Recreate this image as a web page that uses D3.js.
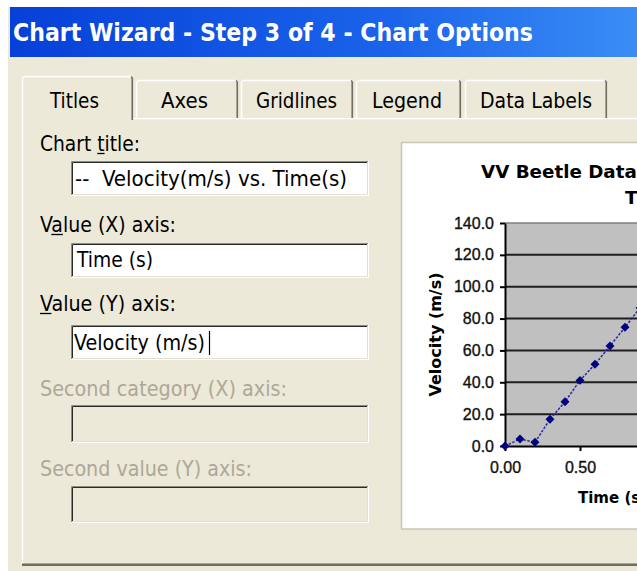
<!DOCTYPE html>
<html><head><meta charset="utf-8">
<script src="https://cdn.jsdelivr.net/npm/d3@7"></script>
<style>
html,body{margin:0;padding:0;background:#fff;overflow:hidden}
svg{display:block}
text{white-space:pre}
</style></head><body>
<script>
// ---------------- data ----------------
const times      = [0.0, 0.1, 0.2, 0.3, 0.4, 0.5, 0.6, 0.7, 0.8, 0.9];
const velocities = [0.0, 4.4, 2.3, 16.8, 27.8, 41.2, 51.3, 62.8, 74.5, 86.8];
const yTicks = [0, 20, 40, 60, 80, 100, 120, 140];
const xTicks = [0, 0.5];
const chartTitleLines = ["VV Beetle Data -- Velocity(m/s) vs.", "Time(s)"];
const xAxisTitle = "Time (s)";
const yAxisTitle = "Velocity (m/s)";
const windowTitle = "Chart Wizard - Step 3 of 4 - Chart Options";
const tabNames = ["Titles", "Axes", "Gridlines", "Legend", "Data Labels"];
const fieldLabels = ["Chart title:", "Value (X) axis:", "Value (Y) axis:", "Second category (X) axis:", "Second value (Y) axis:"];
const fieldValues = ["--  Velocity(m/s) vs. Time(s)", "Time (s)", "Velocity (m/s)", "", ""];
const accessKeys = [6, 1, 0, -1, -1];
const fieldEnabled = [true, true, true, false, false];

// ---------------- layout ----------------
const W = 637, H = 571;
const beige = "#ECE9D8";
const uiFont = "'DejaVu Sans Condensed','DejaVu Sans',sans-serif";
const chartFont = "'DejaVu Sans',sans-serif";
const tickFont = "'Liberation Sans',Arial,sans-serif";

const tabLayout = [
  {x0: 22, x1: 133, tx: 50, tw: 49},
  {x0: 136, x1: 238, tx: 161, tw: 47},
  {x0: 241, x1: 353, tx: 256, tw: 81},
  {x0: 356, x1: 461, tx: 372, tw: 70},
  {x0: 465, x1: 607, tx: 480, tw: 112}
];
const labelLayout = [
  {y: 151, w: 100}, {y: 232, w: 136}, {y: 311, w: 136}, {y: 396, w: 247}, {y: 476, w: 212}
];
const boxLayout = [
  {y0: 161, y1: 196, tx: 75, tw: 272, ty: 186},
  {y0: 243, y1: 278, tx: 77, tw: 76, ty: 267},
  {y0: 325, y1: 360, tx: 74, tw: 131, ty: 350},
  {y0: 405, y1: 443},
  {y0: 486, y1: 523}
];

const svg = d3.select("body").append("svg").attr("width", W).attr("height", H);
svg.append("rect").attr("width", W).attr("height", H).attr("fill", "#fff");
svg.append("rect").attr("x", 8).attr("y", 7).attr("width", W - 8).attr("height", H - 7).attr("fill", beige);

// title bar
const defs = svg.append("defs");
const grad = defs.append("linearGradient").attr("id", "tb").attr("x1", 0).attr("x2", 1).attr("y1", 0).attr("y2", 0);
grad.append("stop").attr("offset", 0).attr("stop-color", "#0740D8");
grad.append("stop").attr("offset", 0.6).attr("stop-color", "#1A63EA");
grad.append("stop").attr("offset", 1).attr("stop-color", "#3A8DF5");
svg.append("rect").attr("x", 10).attr("y", 7).attr("width", W - 10).attr("height", 50).attr("fill", "url(#tb)");
svg.append("text").attr("x", 13).attr("y", 41).text(windowTitle)
  .attr("font-family", uiFont).attr("font-weight", "bold").attr("font-size", 24)
  .attr("fill", "#fff").attr("textLength", 520).attr("lengthAdjust", "spacingAndGlyphs");

// panel
const pTop = 118, pBot = 566, pLeft = 22;
svg.append("line").attr("x1", pLeft + 0.5).attr("x2", pLeft + 0.5).attr("y1", pTop).attr("y2", pBot - 2).attr("stroke", "#fff").attr("stroke-width", 1.5);
svg.append("line").attr("x1", pLeft).attr("x2", W).attr("y1", pTop + 0.5).attr("y2", pTop + 0.5).attr("stroke", "#fff").attr("stroke-width", 1.5);
svg.append("line").attr("x1", pLeft).attr("x2", W).attr("y1", pBot - 2.5).attr("y2", pBot - 2.5).attr("stroke", "#ACA899").attr("stroke-width", 1);
svg.append("line").attr("x1", pLeft).attr("x2", W).attr("y1", pBot - 1).attr("y2", pBot - 1).attr("stroke", "#716F64").attr("stroke-width", 2);

// tabs
tabNames.forEach((name, i) => {
  const t = tabLayout[i];
  const sel = i === 0;
  const top = sel ? 76 : 80;
  const bot = sel ? pTop + 2 : pTop;
  const g = svg.append("g");
  g.append("path").attr("d", `M${t.x0},${bot} L${t.x0},${top + 2} L${t.x0 + 2},${top} L${t.x1 - 2},${top} L${t.x1},${top + 2} L${t.x1},${bot} Z`)
    .attr("fill", beige);
  g.append("path").attr("d", `M${t.x0 + 0.5},${bot} L${t.x0 + 0.5},${top + 2} L${t.x0 + 2.5},${top + 0.5} L${t.x1 - 2},${top + 0.5}`)
    .attr("fill", "none").attr("stroke", "#fff").attr("stroke-width", 1.5);
  g.append("line").attr("x1", t.x1 - 1.5).attr("x2", t.x1 - 1.5).attr("y1", top + 2).attr("y2", bot).attr("stroke", "#ACA899");
  g.append("path").attr("d", `M${t.x1 - 2},${top + 0.5} L${t.x1 - 0.5},${top + 2} L${t.x1 - 0.5},${bot}`)
    .attr("fill", "none").attr("stroke", "#716F64").attr("stroke-width", 1.2);
  g.append("text").attr("x", t.tx).attr("y", 108).text(name)
    .attr("font-family", uiFont).attr("font-size", 21).attr("fill", "#000")
    .attr("textLength", t.tw).attr("lengthAdjust", "spacingAndGlyphs");
});

// labels + text boxes
function textbox(x0, y0, x1, y1, fill) {
  const g = svg.append("g");
  g.append("rect").attr("x", x0).attr("y", y0).attr("width", x1 - x0).attr("height", y1 - y0).attr("fill", fill);
  g.append("path").attr("d", `M${x0 + 0.5},${y1} L${x0 + 0.5},${y0 + 0.5} L${x1},${y0 + 0.5}`).attr("fill", "none").attr("stroke", "#8E8B80");
  g.append("path").attr("d", `M${x0 + 1.5},${y1 - 1} L${x0 + 1.5},${y0 + 1.5} L${x1 - 1},${y0 + 1.5}`).attr("fill", "none").attr("stroke", "#2A2A28");
  g.append("path").attr("d", `M${x0},${y1 - 0.5} L${x1 - 0.5},${y1 - 0.5} L${x1 - 0.5},${y0}`).attr("fill", "none").attr("stroke", "#fff");
  g.append("path").attr("d", `M${x0 + 1},${y1 - 1.5} L${x1 - 1.5},${y1 - 1.5} L${x1 - 1.5},${y0 + 1}`).attr("fill", "none").attr("stroke", "#E2DFD2");
}

fieldLabels.forEach((lab, i) => {
  const L = labelLayout[i];
  const tx = svg.append("text").attr("x", 40).attr("y", L.y).text(lab)
    .attr("font-family", uiFont).attr("font-size", 21)
    .attr("fill", fieldEnabled[i] ? "#000" : "#ACA899")
    .attr("textLength", L.w).attr("lengthAdjust", "spacingAndGlyphs");
  if (accessKeys[i] >= 0) {
    try {
      const e = tx.node().getExtentOfChar(accessKeys[i]);
      svg.append("line").attr("x1", e.x).attr("x2", e.x + e.width).attr("y1", L.y + 2.5).attr("y2", L.y + 2.5)
        .attr("stroke", "#000").attr("stroke-width", 1.3);
    } catch (err) {}
  }
  const B = boxLayout[i];
  textbox(71, B.y0, 369, B.y1, fieldEnabled[i] ? "#fff" : beige);
  if (fieldValues[i]) {
    svg.append("text").attr("x", B.tx).attr("y", B.ty).text(fieldValues[i])
      .attr("font-family", uiFont).attr("font-size", 21).attr("fill", "#000")
      .attr("textLength", B.tw).attr("lengthAdjust", "spacingAndGlyphs");
  }
});
// caret in the Y-axis field
svg.append("line").attr("x1", 209.5).attr("x2", 209.5).attr("y1", 331).attr("y2", 355).attr("stroke", "#000").attr("stroke-width", 1.2);

// ---------------- chart preview ----------------
svg.append("rect").attr("x", 401.5).attr("y", 142.5).attr("width", 260).attr("height", 386.5)
  .attr("fill", "#fff").attr("stroke", "#C9C6B8").attr("stroke-width", 1.5);

const x = d3.scaleLinear().domain([0, 1.5]).range([505, 730]);
const y = d3.scaleLinear().domain([0, 140]).range([446, 223]);

svg.append("rect").attr("x", x(0)).attr("y", y(140)).attr("width", x(1.5) - x(0)).attr("height", y(0) - y(140)).attr("fill", "#C0C0C0");

// gridlines
svg.append("g").selectAll("line").data(yTicks.filter(d => d > 0)).join("line")
  .attr("x1", x(0)).attr("x2", x(1.5))
  .attr("y1", d => y(d)).attr("y2", d => y(d))
  .attr("stroke", d => d === 140 ? "#7E7E7E" : "#1E1E1E")
  .attr("stroke-width", d => d === 140 ? 1.5 : 2);

// axes
const yAxis = svg.append("g").attr("transform", `translate(${x(0)},0)`)
  .call(d3.axisLeft(y).tickValues(yTicks).tickFormat(d3.format(".1f")).tickSize(5).tickSizeOuter(0).tickPadding(6));
const xAxis = svg.append("g").attr("transform", `translate(0,${y(0)})`)
  .call(d3.axisBottom(x).tickValues(xTicks).tickFormat(d3.format(".2f")).tickSize(5).tickSizeOuter(0).tickPadding(10.5));
[yAxis, xAxis].forEach(a => {
  a.attr("font-family", tickFont).attr("font-size", 16);
  a.select(".domain").attr("stroke", "#000").attr("stroke-width", 2);
  a.selectAll(".tick line").attr("stroke", "#000").attr("stroke-width", 2);
  a.selectAll(".tick text").attr("fill", "#111").attr("stroke", "#111").attr("stroke-width", 0.35);
});

// series
svg.append("path").datum(velocities)
  .attr("d", d3.line().x((d, i) => x(times[i])).y(d => y(d)))
  .attr("fill", "none").attr("stroke", "#2727A8").attr("stroke-width", 1.5).attr("stroke-dasharray", "2.5,1.5");
svg.append("g").selectAll("path").data(velocities).join("path")
  .attr("d", d3.symbol().type(d3.symbolSquare).size(40))
  .attr("transform", (d, i) => `translate(${x(times[i])},${y(d)}) rotate(45)`)
  .attr("fill", "#000080");

// titles
svg.append("text").attr("x", 481).attr("y", 178).text(chartTitleLines[0])
  .attr("font-family", chartFont).attr("font-weight", "bold").attr("font-size", 18.3).attr("fill", "#000");
svg.append("text").attr("x", 625).attr("y", 204).text(chartTitleLines[1])
  .attr("font-family", chartFont).attr("font-weight", "bold").attr("font-size", 18.3).attr("fill", "#000");
svg.append("text").attr("x", 578).attr("y", 503).text(xAxisTitle)
  .attr("font-family", chartFont).attr("font-weight", "bold").attr("font-size", 15).attr("fill", "#000");
svg.append("text").attr("transform", `translate(441,${(y(0) + y(140)) / 2}) rotate(-90)`)
  .attr("text-anchor", "middle").text(yAxisTitle)
  .attr("font-family", chartFont).attr("font-weight", "bold").attr("font-size", 16).attr("fill", "#000");
</script>
</body></html>
